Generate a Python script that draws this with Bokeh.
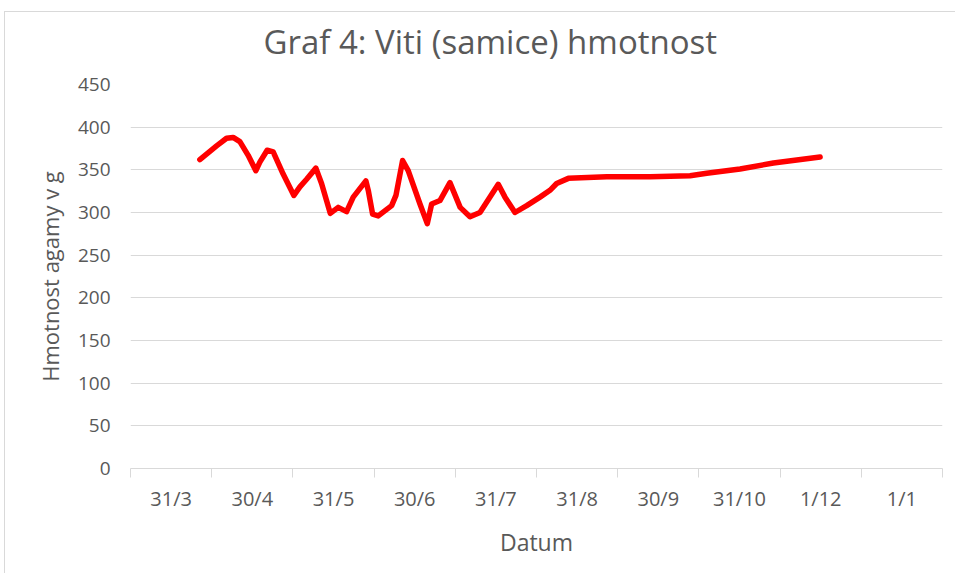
from bokeh.plotting import figure
from bokeh.models import FixedTicker, Range1d, Title
from bokeh.embed import file_html
from bokeh.resources import INLINE

# Data (x in month-slot units from the axis start)
x_pos = [0.854, 1.060, 1.183, 1.264, 1.347, 1.449, 1.544, 1.593, 1.683, 1.757,
         1.880, 2.012, 2.086, 2.169, 2.283, 2.353, 2.460, 2.558, 2.661, 2.743,
         2.899, 2.928, 2.982, 3.051, 3.216, 3.269, 3.351, 3.420, 3.565, 3.655,
         3.709, 3.811, 3.934, 4.060, 4.181, 4.304, 4.529, 4.612, 4.735, 4.879,
         5.043, 5.166, 5.248, 5.392, 5.865, 6.401, 6.891, 7.097, 7.507, 7.918,
         8.493]
weight = [362, 378, 387, 388, 383, 367, 349, 359, 373, 371,
          345, 320, 330, 339, 352, 334, 299, 306, 301, 318,
          337, 326, 298, 296, 308, 320, 361, 349, 310, 287,
          310, 314, 335, 306, 295, 300, 333, 318, 300, 308,
          318, 326, 334, 340, 342, 342, 343, 346, 351, 358,
          365]

x_labels = ["31/3", "30/4", "31/5", "30/6", "31/7", "31/8", "30/9", "31/10", "1/12", "1/1"]
y_ticks = [0, 50, 100, 150, 200, 250, 300, 350, 400, 450]
title_text = "Graf 4: Viti (samice) hmotnost"

FONT = "Open Sans"
GREY = "#595959"

p = figure(width=951, height=562, output_backend="svg", toolbar_location=None,
           x_range=Range1d(0, len(x_labels)), y_range=Range1d(0, 450),
           title=None,
           min_border_left=125, min_border_right=14, min_border_top=72, min_border_bottom=106)
# chart-area border (left and top edges visible in the reference)
p.margin = (11, 0, 0, 4)
p.styles = {"border-left": "1px solid #d9d9d9", "border-top": "1px solid #d9d9d9"}

# blank spacer between the frame and the title, then the title itself
p.add_layout(Title(text=" ", text_font=FONT, text_font_size="14px", standoff=0), "above")
p.add_layout(Title(text=title_text, align="left", offset=133, text_font=FONT,
                   text_font_size="33px", text_font_style="normal",
                   text_color=GREY, standoff=0), "above")

p.outline_line_color = None
p.background_fill_color = "white"
p.border_fill_color = "white"

centers = [i + 0.5 for i in range(len(x_labels))]
bounds = list(range(len(x_labels) + 1))
p.xaxis.ticker = FixedTicker(ticks=centers, minor_ticks=bounds)
p.xaxis.major_label_overrides = {c: lab for c, lab in zip(centers, x_labels)}
p.xaxis.major_tick_line_color = None
p.xaxis.major_tick_out = 0
p.xaxis.major_tick_in = 0
p.xaxis.minor_tick_out = 9
p.xaxis.minor_tick_in = 0
p.xaxis.minor_tick_line_color = "#d9d9d9"
p.xaxis.axis_line_color = "#d9d9d9"
p.xaxis.axis_line_width = 1
p.xaxis.major_label_standoff = 7
p.xaxis.axis_label = "Datum"
p.xaxis.axis_label_standoff = 11
p.xaxis.major_label_text_font_size = "20px"
p.xaxis.axis_label_text_font_size = "23px"

p.yaxis.ticker = FixedTicker(ticks=y_ticks)
p.yaxis.axis_line_color = None
p.yaxis.major_tick_line_color = None
p.yaxis.minor_tick_line_color = None
p.yaxis.major_label_standoff = 14
p.yaxis.axis_label = "Hmotnost agamy v g"
p.yaxis.axis_label_standoff = 10
p.yaxis.major_label_text_font_size = "19px"
p.yaxis.axis_label_text_font_size = "22px"

for ax in (p.xaxis, p.yaxis):
    ax.major_label_text_font = FONT
    ax.major_label_text_color = GREY
    ax.axis_label_text_font = FONT
    ax.axis_label_text_font_style = "normal"
    ax.axis_label_text_color = GREY

p.xgrid.grid_line_color = None
p.ygrid.grid_line_color = "#d9d9d9"
p.ygrid.grid_line_width = 1

p.line(x_pos, weight, line_color="#ff0000", line_width=5.5,
       line_join="round", line_cap="round")

open("out.html", "w").write(file_html(p, INLINE))
